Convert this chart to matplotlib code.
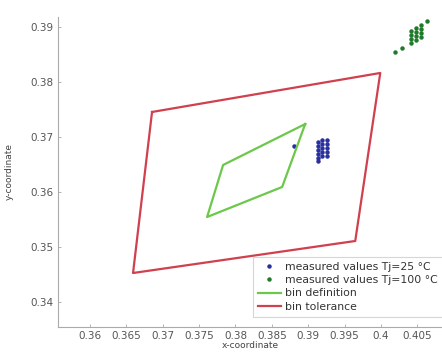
import numpy as np
import matplotlib.pyplot as plt

plt.rcParams['font.family'] = ['DejaVu Sans']

# bin polygons (x, y chromaticity coordinates)
tol_x = [0.36853, 0.39991, 0.39647, 0.36592]
tol_y = [0.37455, 0.38164, 0.35109, 0.34527]
def_x = [0.38959, 0.37830, 0.37610, 0.38642]
def_y = [0.37236, 0.36491, 0.35545, 0.36091]

# measured values Tj=25 C
blue_x = [0.38807,
          0.39137, 0.39137, 0.39137, 0.39137, 0.39137, 0.39137,
          0.39193, 0.39193, 0.39193, 0.39193, 0.39193,
          0.39261, 0.39261, 0.39261, 0.39261, 0.39261]
blue_y = [0.36836,
          0.36909, 0.36836, 0.36764, 0.36691, 0.36618, 0.36564,
          0.36945, 0.36873, 0.36800, 0.36727, 0.36655,
          0.36945, 0.36873, 0.36800, 0.36727, 0.36655]

# measured values Tj=100 C
green_x = [0.40197, 0.40293,
           0.40417, 0.40417, 0.40417, 0.40417,
           0.40486, 0.40486, 0.40486, 0.40486,
           0.40555, 0.40555, 0.40555, 0.40555,
           0.40637]
green_y = [0.38545, 0.38618,
           0.38927, 0.38855, 0.38782, 0.38709,
           0.38982, 0.38909, 0.38836, 0.38764,
           0.39036, 0.38964, 0.38891, 0.38818,
           0.39109]

xticks = [0.36, 0.365, 0.37, 0.375, 0.38, 0.385, 0.39, 0.395, 0.4, 0.405]
xticklabels = ['0.36', '0.365', '0.37', '0.375', '0.38', '0.385', '0.39', '0.395', '0.4', '0.405']
yticks = [0.34, 0.35, 0.36, 0.37, 0.38, 0.39]

fig = plt.figure(figsize=(4.42, 3.56), dpi=100)
ax = fig.add_axes([58/442, 29/356, 1 - 58/442, (327 - 17)/356])

p1, = ax.plot(blue_x, blue_y, 'o', color='#2a2fa0', markersize=2.2, linestyle='none')
p2, = ax.plot(green_x, green_y, 'o', color='#1f7a2a', markersize=2.2, linestyle='none')
l1, = ax.plot(def_x + def_x[:1], def_y + def_y[:1], color='#6cc84a', linewidth=1.6)
l2, = ax.plot(tol_x + tol_x[:1], tol_y + tol_y[:1], color='#d0404e', linewidth=1.6)

ax.set_xlim(0.3556, 0.4084)
ax.set_ylim(0.33545, 0.39182)
ax.set_xticks(xticks)
ax.set_xticklabels(xticklabels)
ax.set_yticks(yticks)
ax.set_yticklabels(['0.34', '0.35', '0.36', '0.37', '0.38', '0.39'])

for s in ['top', 'right']:
    ax.spines[s].set_visible(False)
for s in ['left', 'bottom']:
    ax.spines[s].set_color('#aaaaaa')
    ax.spines[s].set_linewidth(0.8)
ax.tick_params(colors='#aaaaaa', labelcolor='#555555', labelsize=7.5, length=2, width=0.6, direction='in', pad=3)

ax.set_xlabel('x-coordinate', fontsize=6.5, color='#444444', labelpad=0)
ax.set_ylabel('y-coordinate', fontsize=6.5, color='#444444', labelpad=12)

leg = ax.legend([p1, p2, l1, l2],
                ['measured values Tj=25 °C', 'measured values Tj=100 °C', 'bin definition', 'bin tolerance'],
                loc='upper left', bbox_to_anchor=(253/442, 1 - 257/356), bbox_transform=fig.transFigure,
                fontsize=7.8, frameon=True, fancybox=False, handlelength=2.1, handletextpad=0.4,
                labelspacing=0.3, borderpad=0.45, borderaxespad=0, markerscale=1.0)
leg.get_frame().set_edgecolor('#cccccc')
leg.get_frame().set_linewidth(0.8)
for t in leg.get_texts():
    t.set_color('#333333')

fig.savefig('out.png', dpi=100)
